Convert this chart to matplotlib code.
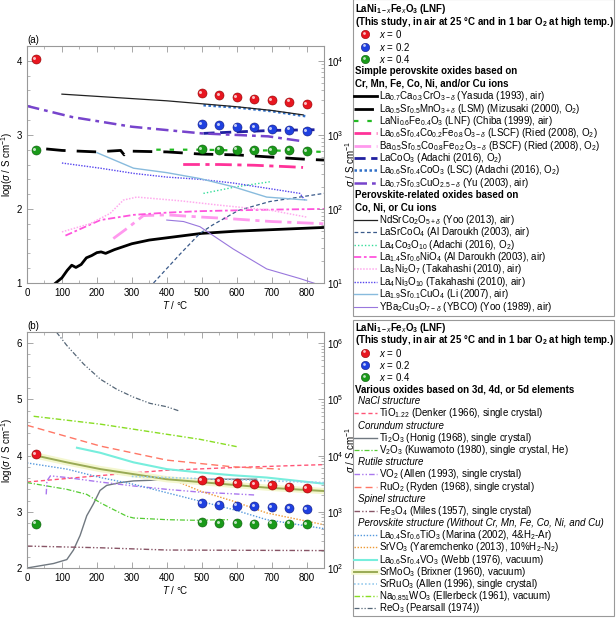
import matplotlib
matplotlib.use("Agg")
import matplotlib.pyplot as plt
from matplotlib.lines import Line2D
from matplotlib.patches import Rectangle
from matplotlib.transforms import offset_copy
from matplotlib.ticker import MultipleLocator, LogLocator, NullFormatter

plt.rcParams['font.family'] = ['Liberation Sans', 'DejaVu Sans']
plt.rcParams['mathtext.fontset'] = 'custom'
plt.rcParams['mathtext.rm'] = 'Liberation Sans'
plt.rcParams['mathtext.it'] = 'Liberation Sans:italic'
plt.rcParams['mathtext.bf'] = 'Liberation Sans:bold'
plt.rcParams['font.size'] = 7

# ---- LNF, this study (both panels)
lnf_T = [25, 500, 550, 600, 650, 700, 750, 800]
lnf_x0 = [4.02, 3.56, 3.54, 3.51, 3.49, 3.47, 3.45, 3.42]
lnf_T02 = [500, 550, 600, 650, 700, 750, 800]
lnf_x02 = [3.15, 3.13, 3.11, 3.10, 3.08, 3.07, 3.05]
lnf_x04 = [2.79, 2.81, 2.80, 2.80, 2.79, 2.79, 2.79, 2.78]

# ---- panel (a): simple perovskites
yasuda_T = [82, 100, 115, 128, 140, 155, 170, 185, 200, 212, 225, 250, 300, 350, 400, 450, 500, 600, 700, 800, 850]
yasuda_s = [1.00, 1.07, 1.17, 1.24, 1.21, 1.25, 1.34, 1.37, 1.41, 1.42, 1.40, 1.45, 1.53, 1.58, 1.61, 1.64, 1.67, 1.70, 1.72, 1.74, 1.75]
mizusaki_T = [55, 100, 200, 268, 278, 290, 300, 400, 500, 600, 700, 800, 850]
mizusaki_s = [2.81, 2.79, 2.77, 2.79, 2.73, 2.80, 2.78, 2.77, 2.74, 2.73, 2.70, 2.67, 2.66]
chiba_T = [370, 500, 600, 700, 850]
chiba_s = [2.80, 2.80, 2.79, 2.79, 2.77]
lscf_T = [447, 550, 650, 750, 790]
lscf_s = [2.60, 2.60, 2.59, 2.57, 2.56]
bscf_T = [247, 290, 333, 400, 500, 576, 700, 852]
bscf_s = [1.60, 1.75, 1.91, 1.92, 1.89, 1.87, 1.83, 1.80]
lacoo3_T = [505, 600, 700, 830]
lacoo3_s = [3.02, 3.04, 3.06, 3.07]
lsc_T = [505, 600, 700, 800]
lsc_s = [3.40, 3.37, 3.32, 3.25]
yu_T = [0, 130, 300, 500, 690, 780]
yu_s = [3.39, 3.24, 3.11, 3.02, 2.98, 2.92]

# ---- panel (a): perovskite-related
ndsrco_T = [100, 200, 300, 400, 500, 600, 700, 790]
ndsrco_s = [3.55, 3.52, 3.49, 3.46, 3.42, 3.38, 3.33, 3.27]
lasrcoo4_T = [362, 440, 495, 530, 605, 695, 780, 850]
lasrcoo4_s = [1.00, 1.40, 1.67, 1.78, 1.98, 2.10, 2.16, 2.21]
la4co3_T = [505, 600, 700]
la4co3_s = [2.21, 2.30, 2.37]
la14ni_T = [110, 210, 305, 400, 495, 686, 850]
la14ni_s = [1.64, 1.85, 1.92, 1.95, 1.97, 1.99, 2.00]
la3ni2_T = [100, 180, 238, 276, 314, 438, 552, 700, 800]
la3ni2_s = [1.69, 1.80, 1.94, 2.12, 2.16, 2.11, 2.05, 1.98, 1.89]
la4ni3_T = [100, 210, 305, 400, 495, 590, 686, 781, 795]
la4ni3_s = [2.62, 2.55, 2.48, 2.43, 2.40, 2.35, 2.28, 2.21, 2.12]
la19cu_T = [200, 305, 400, 495, 590, 686, 800]
la19cu_s = [2.76, 2.55, 2.49, 2.41, 2.30, 2.16, 2.12]
ybco_T = [400, 448, 495, 590, 686, 781, 820, 850]
ybco_s = [1.85, 1.83, 1.76, 1.46, 1.19, 1.06, 1.00, 0.95]

# ---- panel (b): various oxides
tio_T = [0, 200, 400, 600, 850]
tio_s = [3.53, 3.64, 3.74, 3.79, 3.84]
ti2o3_T = [0, 76, 114, 133, 152, 171, 190, 209, 228, 267, 305, 438, 657]
ti2o3_s = [2.00, 2.08, 2.15, 2.32, 2.58, 2.93, 3.14, 3.38, 3.47, 3.52, 3.55, 3.58, 3.58]
v2o3_T = [0, 114, 171, 210, 238, 286, 305, 400, 476, 580]
v2o3_s = [3.52, 3.40, 3.31, 3.16, 3.07, 2.92, 2.89, 2.86, 2.85, 2.86]
vo2_T = [55, 57, 67, 114, 210, 305, 400, 495, 590, 650]
vo2_s = [3.31, 3.55, 3.64, 3.61, 3.53, 3.46, 3.40, 3.35, 3.32, 3.30]
ruo2_T = [0, 210, 400, 590, 724]
ruo2_s = [4.54, 4.17, 3.92, 3.80, 3.76]
fe3o4_T = [0, 210, 400, 850]
fe3o4_s = [2.39, 2.36, 2.32, 2.31]
lstio_T = [0, 114, 210, 305, 400, 495, 590, 686, 850]
lstio_s = [3.87, 3.76, 3.61, 3.49, 3.34, 3.19, 3.04, 2.86, 2.70]
srvo3_T = [438, 495, 590, 686, 850]
srvo3_s = [3.52, 3.37, 3.19, 2.98, 2.77]
lsvo_T = [143, 210, 305, 400, 495, 590, 686, 850]
lsvo_s = [4.14, 4.05, 3.88, 3.76, 3.70, 3.65, 3.61, 3.50]
srmoo3_T = [19, 114, 210, 305, 400, 495, 590, 686, 850]
srmoo3_s = [4.01, 3.88, 3.76, 3.67, 3.58, 3.53, 3.48, 3.43, 3.37]
srruo3_T = [300, 500, 650, 850]
srruo3_s = [3.63, 3.59, 3.56, 3.52]
nawo3_T = [19, 210, 400, 495, 600]
nawo3_s = [4.70, 4.56, 4.38, 4.29, 4.16]
reo3_T = [84, 114, 162, 210, 257, 305, 352, 400, 433]
reo3_s = [6.20, 5.96, 5.63, 5.36, 5.18, 5.04, 4.93, 4.87, 4.80]

W, H = 616, 619
fig = plt.figure(figsize=(W / 100, H / 100), dpi=100)


def fx(px):
    return px / W


def fy(py):
    return 1 - py / H


RED, BLUE, GREEN = '#e81620', '#1f40e0', '#1a9a1a'
EDGE = {RED: '#900000', BLUE: '#101880', GREEN: '#0a5a0a'}
GLOW = '#f4f7cf'
LEG_FS = 7

# styles: (label, T, s, color, lw, linestyle)
a_simple = [
    (r'La$_{0.7}$Ca$_{0.3}$CrO$_{3-\delta}$ (Yasuda (1993), air)', yasuda_T, yasuda_s, 'black', 2.0, '-'),
    (r'La$_{0.5}$Sr$_{0.5}$MnO$_{3+\delta}$ (LSM) (Mizusaki (2000), O$_2$)', mizusaki_T, mizusaki_s, 'black', 2.0, (0, (7, 4))),
    (r'LaNi$_{0.6}$Fe$_{0.4}$O$_3$ (LNF) (Chiba (1999), air)', chiba_T, chiba_s, '#22bb22', 1.6, (0, (2, 4))),
    (r'La$_{0.6}$Sr$_{0.4}$Co$_{0.2}$Fe$_{0.8}$O$_{3-\delta}$ (LSCF) (Ried (2008), O$_2$)', lscf_T, lscf_s, '#ff3399', 2.0, (0, (6, 2, 1.5, 2))),
    (r'Ba$_{0.5}$Sr$_{0.5}$Co$_{0.8}$Fe$_{0.2}$O$_{3-\delta}$ (BSCF) (Ried (2008), O$_2$)', bscf_T, bscf_s, '#ff99ee', 2.0, (0, (6, 2, 1.5, 2))),
    (r'LaCoO$_3$ (Adachi (2016), O$_2$)', lacoo3_T, lacoo3_s, '#2020a0', 2.0, (0, (4, 2))),
    (r'La$_{0.6}$Sr$_{0.4}$CoO$_3$ (LSC) (Adachi (2016), O$_2$)', lsc_T, lsc_s, '#3070c8', 1.8, (0, (1, 1))),
    (r'La$_{0.7}$Sr$_{0.3}$CuO$_{2.5-\delta}$ (Yu (2003), air)', yu_T, yu_s, '#7744cc', 1.8, (0, (5, 2, 1.5, 2))),
]
a_related = [
    (r'NdSrCo$_2$O$_{5+\delta}$ (Yoo (2013), air)', ndsrco_T, ndsrco_s, '#222222', 0.9, '-'),
    (r'LaSrCoO$_4$ (Al Daroukh (2003), air)', lasrcoo4_T, lasrcoo4_s, '#3a5a8a', 0.9, (0, (3, 2))),
    (r'La$_4$Co$_3$O$_{10}$ (Adachi (2016), O$_2$)', la4co3_T, la4co3_s, '#33dd99', 1.0, (0, (1, 1.5))),
    (r'La$_{1.4}$Sr$_{0.6}$NiO$_4$ (Al Daroukh (2003), air)', la14ni_T, la14ni_s, '#ff55dd', 1.3, (0, (4, 1.5, 1.5, 1.5))),
    (r'La$_3$Ni$_2$O$_7$ (Takahashi (2010), air)', la3ni2_T, la3ni2_s, '#ffaaee', 1.1, (0, (1, 1))),
    (r'La$_4$Ni$_3$O$_{10}$ (Takahashi (2010), air)', la4ni3_T, la4ni3_s, '#5544ee', 1.0, (0, (1, 1))),
    (r'La$_{1.9}$Sr$_{0.1}$CuO$_4$ (Li (2007), air)', la19cu_T, la19cu_s, '#88bbdd', 1.0, '-'),
    (r'YBa$_2$Cu$_3$O$_{7-\delta}$ (YBCO) (Yoo (1989), air)', ybco_T, ybco_s, '#9977dd', 0.8, '-'),
]
b_groups = [
    ('NaCl structure', [
        (r'TiO$_{1.22}$ (Denker (1966), single crystal)', tio_T, tio_s, '#ff5577', 1.0, (0, (3, 2)))]),
    ('Corundum structure', [
        (r'Ti$_2$O$_3$ (Honig (1968), single crystal)', ti2o3_T, ti2o3_s, '#707880', 1.0, '-'),
        (r'V$_2$O$_3$ (Kuwamoto (1980), single crystal, He)', v2o3_T, v2o3_s, '#55cc33', 0.9, (0, (4, 1.5, 1, 1.5)))]),
    ('Rutile structure', [
        (r'VO$_2$ (Allen (1993), single crystal)', vo2_T, vo2_s, '#aa77ee', 1.0, (0, (4, 1.5, 1, 1.5, 1, 1.5))),
        (r'RuO$_2$ (Ryden (1968), single crystal)', ruo2_T, ruo2_s, '#ff7766', 1.0, (0, (5, 3)))]),
    ('Spinel structure', [
        (r'Fe$_3$O$_4$ (Miles (1957), single crystal)', fe3o4_T, fe3o4_s, '#885566', 1.0, (0, (4, 1.5, 1, 1.5, 1, 1.5)))]),
    ('Perovskite structure (Without Cr, Mn, Fe, Co, Ni, and Cu)', [
        (r'La$_{0.4}$Sr$_{0.6}$TiO$_3$ (Marina (2002), 4&H$_2$-Ar)', lstio_T, lstio_s, '#5599dd', 1.0, (0, (1, 1.2))),
        (r'SrVO$_3$ (Yaremchenko (2013), 10%H$_2$-N$_2$)', srvo3_T, srvo3_s, '#ee9933', 1.0, (0, (1, 1.2))),
        (r'La$_{0.6}$Sr$_{0.4}$VO$_3$ (Webb (1976), vacuum)', lsvo_T, lsvo_s, '#77eedd', 1.5, '-'),
        (r'SrMoO$_3$ (Brixner (1960), vacuum)', srmoo3_T, srmoo3_s, '#99aa55', 1.4, '-'),
        (r'SrRuO$_3$ (Allen (1996), single crystal)', srruo3_T, srruo3_s, '#99ccee', 1.2, (0, (1, 1.2))),
        (r'Na$_{0.851}$WO$_3$ (Ellerbeck (1961), vacuum)', nawo3_T, nawo3_s, '#88dd22', 1.0, (0, (4, 1.5, 1, 1.5))),
        (r'ReO$_3$ (Pearsall (1974))', reo3_T, reo3_s, '#556677', 0.9, (0, (4, 1.5, 1, 1.5, 1, 1.5)))]),
]


def balls(ax, x, y, color, ms=6.5):
    ax.plot(x, y, 'o', ms=ms, mfc=color, mec=EDGE[color], mew=0.4, zorder=10, clip_on=False)
    hl = offset_copy(ax.transData, fig=fig, x=-0.9, y=0.9, units='points')
    ax.plot(x, y, 'o', ms=ms * 0.33, mfc='white', mec='none', alpha=0.75,
            zorder=11, transform=hl, clip_on=False)


def fig_ball(x, y, color, ms=6):
    fig.add_artist(Line2D([x], [y], marker='o', ls='none', ms=ms, mfc=color, mec=EDGE[color],
                          mew=0.4, transform=fig.transFigure, zorder=30))
    hl = offset_copy(fig.transFigure, fig=fig, x=-0.9, y=0.9, units='points')
    fig.add_artist(Line2D([x], [y], marker='o', ls='none', ms=ms * 0.33, mfc='white',
                          mec='none', alpha=0.75, transform=hl, zorder=31))


def setup(ax, ylo, yhi, tag):
    ax.set_xlim(0, 850)
    ax.set_ylim(ylo, yhi)
    ax.xaxis.set_major_locator(MultipleLocator(100))
    ax.xaxis.set_minor_locator(MultipleLocator(50))
    ax.yaxis.set_major_locator(MultipleLocator(1))
    ax.yaxis.set_minor_locator(MultipleLocator(0.2))
    ax.tick_params(which='both', direction='in', top=True, color='#999999')
    ax.tick_params(which='major', length=4, width=0.6)
    ax.tick_params(which='minor', length=2, width=0.5)
    for sp in ax.spines.values():
        sp.set_color('#999999')
        sp.set_linewidth(0.8)
    ax.set_xlabel(r'$T$ / °C', labelpad=1)
    ax.set_ylabel(r'log($\sigma$ / S cm$^{-1}$)', labelpad=1)
    ax.text(0, 1.006, tag, transform=ax.transAxes, va='bottom', ha='left')
    ax2 = ax.twinx()
    ax2.set_yscale('log')
    ax2.set_ylim(10 ** ylo, 10 ** yhi)
    ax2.yaxis.set_major_locator(LogLocator(base=10))
    ax2.yaxis.set_minor_locator(LogLocator(base=10, subs=range(2, 10)))
    ax2.yaxis.set_minor_formatter(NullFormatter())
    ax2.tick_params(which='both', direction='in', color='#999999', pad=2)
    ax2.tick_params(which='major', length=4, width=0.6)
    ax2.tick_params(which='minor', length=2, width=0.5)
    for sp in ax2.spines.values():
        sp.set_visible(False)
    ax2.set_ylabel(r'$\sigma$ / S cm$^{-1}$', labelpad=0)


def lnf_points(ax):
    balls(ax, lnf_T, lnf_x0, RED)
    balls(ax, lnf_T02, lnf_x02, BLUE)
    balls(ax, lnf_T, lnf_x04, GREEN)


# ---------------- panel (a)
axa = fig.add_axes([fx(27), fy(283), fx(324) - fx(27), fy(46) - fy(283)])
for lab, T, s, c, lw, ls in a_simple + a_related:
    axa.plot(T, s, color=c, lw=lw, ls=ls)
lnf_points(axa)
setup(axa, 1, 4.2, '(a)')

# ---------------- panel (b)
axb = fig.add_axes([fx(27), fy(568), fx(324) - fx(27), fy(332) - fy(568)])
for head, items in b_groups:
    for lab, T, s, c, lw, ls in items:
        if T is srmoo3_T:
            axb.plot(T, s, color=GLOW, lw=4.5, solid_capstyle='round')
        axb.plot(T, s, color=c, lw=lw, ls=ls)
lnf_points(axb)
setup(axb, 2, 6.2, '(b)')


# ---------------- legends drawn in figure pixels
def legend_box(top, bottom):
    fig.add_artist(Rectangle((fx(353), fy(bottom)), fx(614) - fx(353), fy(top) - fy(bottom),
                             transform=fig.transFigure, fc='white', ec='#999999', lw=0.8,
                             zorder=20))


def head(y, text, style='normal', weight='bold', x=355):
    fig.text(fx(x), fy(y), text, fontweight=weight, fontstyle=style, va='center', ha='left',
             fontsize=LEG_FS, zorder=22)


def entry(y, text, c, lw, ls):
    fig.add_artist(Line2D([fx(354), fx(377)], [fy(y), fy(y)], transform=fig.transFigure,
                          color=c, lw=lw, ls=ls, zorder=21))
    fig.text(fx(379), fy(y), text, va='center', ha='left', fontsize=LEG_FS, zorder=22)


def lnf_legend(y0, step):
    head(y0, r'LaNi$_{\mathbf{1-}x}$Fe$_x$O$_\mathbf{3}$ (LNF)')
    head(y0 + step, r'(This study, in air at 25 °C and in 1 bar O$_\mathbf{2}$ at high temp.)')
    for i, (c, lab) in enumerate([(RED, '0'), (BLUE, '0.2'), (GREEN, '0.4')]):
        y = y0 + (2 + i) * step
        fig_ball(fx(365), fy(y), c)
        fig.text(fx(379), fy(y), r'$x$ = ' + lab, va='center', ha='left', fontsize=LEG_FS,
                 zorder=22)


legend_box(-1, 316)
step = 12.38
y = 9.5
lnf_legend(y, step)
y += 5 * step
head(y, 'Simple perovskite oxides based on')
head(y + step, 'Cr, Mn, Fe, Co, Ni, and/or Cu ions')
y += 2 * step
for lab, T, s, c, lw, ls in a_simple:
    entry(y, lab, c, lw, ls)
    y += step
head(y, 'Perovskite-related oxides based on')
head(y + step, 'Co, Ni, or Cu ions')
y += 2 * step
for lab, T, s, c, lw, ls in a_related:
    entry(y, lab, c, lw, ls)
    y += step

legend_box(320, 616)
step = 12.17
y = 328.3
lnf_legend(y, step)
y += 5 * step
head(y, 'Various oxides based on 3d, 4d, or 5d elements')
y += step
for hd, items in b_groups:
    head(y, hd, style='italic', weight='normal', x=358)
    y += step
    for lab, T, s, c, lw, ls in items:
        if T is srmoo3_T:
            fig.add_artist(Line2D([fx(354), fx(377)], [fy(y), fy(y)], transform=fig.transFigure,
                                  color=GLOW, lw=4, zorder=21))
        entry(y, lab, c, lw, ls)
        y += step

fig.savefig('out.png', dpi=100)
